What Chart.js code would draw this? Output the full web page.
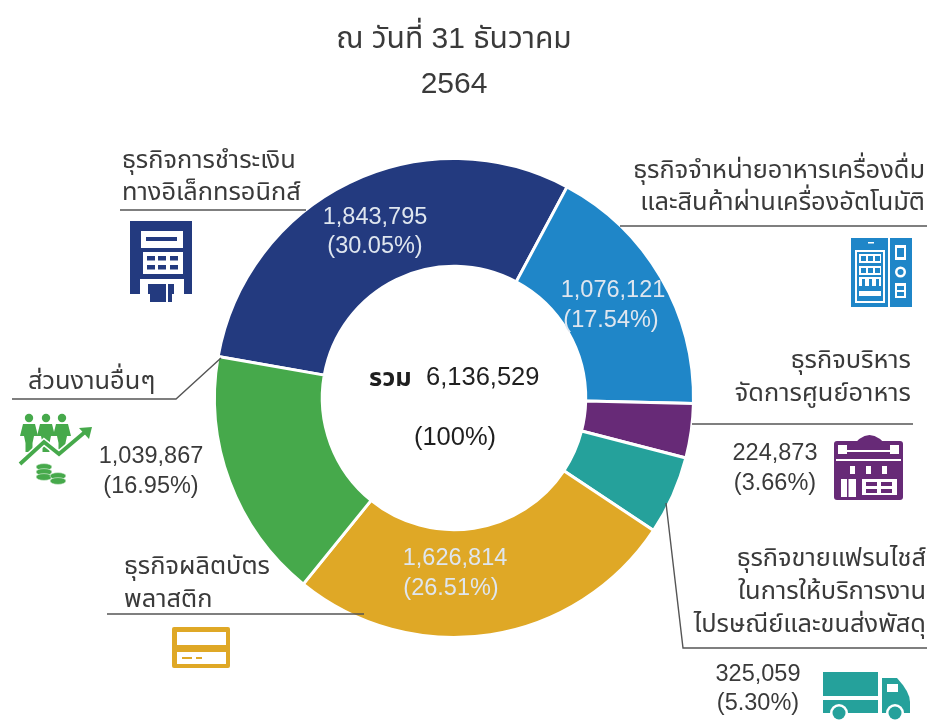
<!DOCTYPE html>
<html lang="th"><head><meta charset="utf-8">
<style>html,body{margin:0;padding:0;background:#fff}#w{width:927px;height:720px;position:relative}</style>
<script src="https://cdn.jsdelivr.net/npm/chart.js@4"></script></head>
<body><div id="w"><canvas id="c" width="927" height="720"></canvas></div>
<script>
const titleLines = ['ณ วันที่ 31 ธันวาคม', '2564'];
const categories = ['ธุรกิจการชำระเงินทางอิเล็กทรอนิกส์','ธุรกิจจำหน่ายอาหารเครื่องดื่มและสินค้าผ่านเครื่องอัตโนมัติ','ธุรกิจบริหารจัดการศูนย์อาหาร','ธุรกิจขายแฟรนไชส์ในการให้บริการงานไปรษณีย์และขนส่งพัสดุ','ธุรกิจผลิตบัตรพลาสติก','ส่วนงานอื่นๆ'];
const values = [1843795, 1076121, 224873, 325059, 1626814, 1039867];
const valueText = ['1,843,795','1,076,121','224,873','325,059','1,626,814','1,039,867'];
const percentText = ['(30.05%)','(17.54%)','(3.66%)','(5.30%)','(26.51%)','(16.95%)'];
const colors = ['#233a7f','#1f86c8','#672a77','#25a19b','#dfa826','#46a94b'];
const FONT = '"Liberation Sans","Noto Sans Thai","Noto Sans",sans-serif';
const INK = '#3a3a3a';

function T(ctx,s,x,y,al,size,col,wt){ctx.font=(wt||'400')+' '+size+'px '+FONT;ctx.textAlign=al;ctx.textBaseline='middle';ctx.fillStyle=col||INK;ctx.fillText(s,x,y);}
function L(ctx,pts){ctx.beginPath();ctx.strokeStyle='#555';ctx.lineWidth=1.4;pts.forEach((p,i)=>i?ctx.lineTo(p[0],p[1]):ctx.moveTo(p[0],p[1]));ctx.stroke();}
function R(ctx,x,y,w,h,c){ctx.fillStyle=c;ctx.fillRect(x,y,w,h);}
function C(ctx,x,y,r,c){ctx.fillStyle=c;ctx.beginPath();ctx.arc(x,y,r,0,Math.PI*2);ctx.fill();}

function atm(ctx){const c=colors[0],w='#fff';
 R(ctx,130,221,62,73,c);R(ctx,150,294,22,8,c);
 R(ctx,141,231,42,17,w);R(ctx,146,237,31,4,c);
 R(ctx,143,252,40,22,w);
 for(const y of[256,265])for(const x of[147,158,170])R(ctx,x,y,8,4.5,c);
 R(ctx,140,279,44,5,w);R(ctx,140,284,8,10,w);R(ctx,174,284,10,10,w);
 R(ctx,166,284,2,18,w);}
function vending(ctx){const c=colors[1],w='#fff';
 R(ctx,851,238,61,69,c);R(ctx,888,238,2,69,w);
 R(ctx,855,250,30,53,w);R(ctx,857,252,26,49,c);
 for(const y of[254,266,277]){R(ctx,859,y,22,9,w);}
 for(const y of[256,268])for(const x of[861,868,875])R(ctx,x,y,5,5,c);
 for(const x of[862,869,876])R(ctx,x,279,3,7,c);
 R(ctx,859,291,22,5,w);R(ctx,868,242,6,1.5,w);
 R(ctx,895,245,11,15,w);R(ctx,897,248,7,9,c);
 C(ctx,900.5,272,5.5,w);C(ctx,900.5,272,3,c);
 R(ctx,895,283,11,15,w);R(ctx,897,286,7,4,c);R(ctx,897,292,7,4,c);}
function foodCourt(ctx){const c=colors[2],w='#fff';
 ctx.fillStyle=c;ctx.beginPath();ctx.roundRect(834,441,69,59,3);ctx.fill();
 ctx.beginPath();ctx.moveTo(850,450);ctx.quadraticCurveTo(869,420,890,450);ctx.fill();
 R(ctx,838,445,9,9,w);R(ctx,890,445,9,9,w);
 R(ctx,847,450,43,2,w);R(ctx,836,459,65,2,w);
 for(const x of[850,866,882])R(ctx,x,466,5,8,w);
 R(ctx,841,479,15,18,w);R(ctx,847,479,1.5,18,c);
 R(ctx,862,479,35,16,w);
 for(const y of[482,489])for(const x of[866,881])R(ctx,x,y,11,4,c);}
function truck(ctx){const c=colors[3];
 R(ctx,823,672,55,24,c);R(ctx,823,700,55,13,c);
 ctx.fillStyle=c;ctx.beginPath();ctx.moveTo(882,678);ctx.lineTo(897,678);ctx.quadraticCurveTo(910,692,910,702);ctx.lineTo(910,713);ctx.lineTo(882,713);ctx.fill();
 R(ctx,887,684,11,8,'#fff');
 for(const x of[839,895]){C(ctx,x,713,9,'#fff');C(ctx,x,713,6.5,c);}}
function card(ctx){const c=colors[4];
 ctx.fillStyle=c;ctx.beginPath();ctx.roundRect(172,627,58,41,2);ctx.fill();
 R(ctx,177,632,49,13,'#fff');R(ctx,177,652,49,12,'#fff');
 R(ctx,182,657,10,2,c);R(ctx,196,657,6,2,c);}
function people(ctx){const c=colors[5];
 for(const x of[29,46,62]){C(ctx,x,418,4.2,c);
  ctx.fillStyle=c;ctx.beginPath();ctx.moveTo(x-6,424);ctx.lineTo(x+6,424);ctx.lineTo(x+9,436);ctx.lineTo(x+5,436);ctx.lineTo(x+3.5,443);ctx.lineTo(x+3.5,452);ctx.lineTo(x-3.5,452);ctx.lineTo(x-3.5,443);ctx.lineTo(x-5,436);ctx.lineTo(x-9,436);ctx.closePath();ctx.fill();}
 ctx.strokeStyle='#fff';ctx.lineWidth=7;ctx.beginPath();ctx.moveTo(20,464);ctx.lineTo(44,442);ctx.lineTo(59,454);ctx.lineTo(86,431);ctx.stroke();
 ctx.strokeStyle=c;ctx.lineWidth=3.8;ctx.beginPath();ctx.moveTo(20,464);ctx.lineTo(44,442);ctx.lineTo(59,454);ctx.lineTo(85,432);ctx.stroke();
 ctx.fillStyle=c;ctx.beginPath();ctx.moveTo(92,427);ctx.lineTo(79,428);ctx.lineTo(89,439);ctx.fill();
 for(const p of[[44,467,8],[44,472,8],[44,477,8],[58,476,8],[58,481,8]]){ctx.beginPath();ctx.ellipse(p[0],p[1],p[2],3.4,0,0,Math.PI*2);ctx.fillStyle=c;ctx.fill();ctx.strokeStyle='#fff';ctx.lineWidth=.5;ctx.stroke();}}

const annotations = {
 id:'annotations',
 afterDraw(chart){const ctx=chart.ctx;ctx.save();
  const S=25.4,N=23.5,W='#dfe6ef';
  L(ctx,[[120,210],[306,210]]);
  L(ctx,[[12,399],[176,399],[221,358]]);
  L(ctx,[[620,226],[927,226]]);
  L(ctx,[[692,424],[913,424]]);
  L(ctx,[[666,503],[683,648],[927,648]]);
  L(ctx,[[107,614],[364,614]]);
  T(ctx,'ธุรกิจการชำระเงิน',122,161,'left',S);T(ctx,'ทางอิเล็กทรอนิกส์',122,193,'left',S);
  T(ctx,'ส่วนงานอื่นๆ',28,382,'left',S);
  T(ctx,'ธุรกิจจำหน่ายอาหารเครื่องดื่ม',925,171,'right',S);T(ctx,'และสินค้าผ่านเครื่องอัตโนมัติ',925,203,'right',S);
  T(ctx,'ธุรกิจบริหาร',911,361,'right',S);T(ctx,'จัดการศูนย์อาหาร',911,394,'right',S);
  T(ctx,'ธุรกิจขายแฟรนไชส์',926,559,'right',S);T(ctx,'ในการให้บริการงาน',926,592,'right',S);T(ctx,'ไปรษณีย์และขนส่งพัสดุ',926,625,'right',S);
  T(ctx,'ธุรกิจผลิตบัตร',124,567,'left',S);T(ctx,'พลาสติก',124,600,'left',S);
  const on=[[375,218,W],[613,291,W],[775,454,INK],[758,675,INK],[455,559,W],[151,457,INK]];
  const off=[[375,247],[611,321],[775,484],[758,704],[451,589],[151,487]];
  values.forEach((v,i)=>{T(ctx,valueText[i],on[i][0],on[i][1],'center',N,on[i][2]);T(ctx,percentText[i],off[i][0],off[i][1],'center',N,on[i][2]);});
  T(ctx,'รวม',369,379,'left',S,'#1f1f1f','700');T(ctx,'6,136,529',426,378,'left',25.5,'#1f1f1f');
  T(ctx,'(100%)',455,438,'center',25.5,'#1f1f1f');
  atm(ctx);vending(ctx);foodCourt(ctx);truck(ctx);card(ctx);people(ctx);
  ctx.restore();}
};

new Chart(document.getElementById('c'),{
 type:'doughnut',
 data:{labels:categories,datasets:[{data:values,backgroundColor:colors,borderColor:'#fff',borderWidth:3}]},
 plugins:[annotations],
 options:{responsive:false,animation:false,rotation:-80,cutout:'55%',
  layout:{padding:{left:213,right:232,top:17,bottom:81}},
  plugins:{legend:{display:false},tooltip:{enabled:false},
   title:{display:true,fullSize:false,text:titleLines,color:INK,font:{family:FONT,size:30,weight:'400',lineHeight:1.5},padding:{top:0,bottom:50}}}}
});
</script></body></html>
